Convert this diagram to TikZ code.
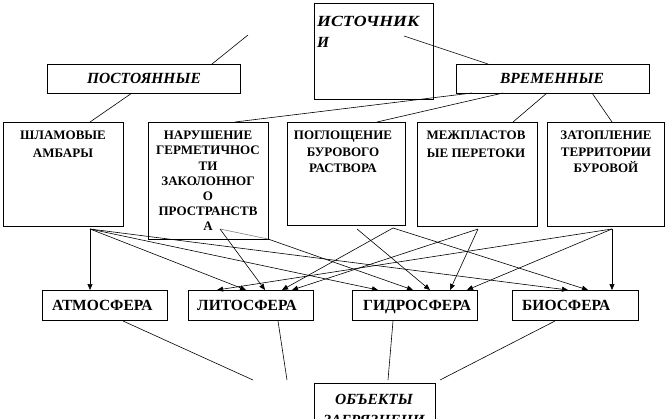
\documentclass[tikz,border=0pt]{standalone}
\usepackage{fontspec}
\setmainfont{Liberation Serif}
\usetikzlibrary{arrows.meta,calc}
\begin{document}
\begin{tikzpicture}[x=1pt,y=-1pt,
  box/.style={draw=black,line width=0.9pt,inner sep=0pt,anchor=north west},
  rowtxt/.style={align=center,inner sep=0pt,anchor=north},
  lowtxt/.style={font=\bfseries\fontsize{15.5}{17}\selectfont,inner sep=0pt,anchor=base west},
  hdrtxt/.style={font=\bfseries\itshape\fontsize{15.5}{21}\selectfont,inner sep=0pt},
  link/.style={line width=0.6pt},
  arr/.style={line width=0.6pt,-{Triangle[length=6pt,width=5pt]}}]
\clip (0,0) rectangle (669,418);
\fill[white] (0,0) rectangle (669,418);

% top level
\node[box,minimum width=119pt,minimum height=96pt] (src) at (314,3) {};
\node[hdrtxt,anchor=north west,align=left] (srct) at (317,16) {\scalebox{1.15}[1]{ИСТОЧНИК}\\И};
\node[box,minimum width=193pt,minimum height=29pt] (post) at (47,64) {};
\node[hdrtxt,anchor=base] (postt) at (144,83) {ПОСТОЯННЫЕ};
\node[box,minimum width=193pt,minimum height=29pt] (temp) at (456,64) {};
\node[hdrtxt,anchor=base] (tempt) at (552,83) {ВРЕМЕННЫЕ};

% second row
\node[box,minimum width=120pt,minimum height=104pt] (b1) at (3,122) {};
\node[rowtxt,font=\bfseries\fontsize{13}{18}\selectfont] (b1t) at (63,131) {ШЛАМОВЫЕ\\АМБАРЫ};
\node[box,minimum width=120pt,minimum height=117pt] (b2) at (148,122) {};
\node[rowtxt,font=\bfseries\fontsize{13}{15.2}\selectfont] (b2t) at (208,131) {НАРУШЕНИЕ\\ГЕРМЕТИЧНОС\\ТИ\\ЗАКОЛОННОГ\\О\\ПРОСТРАНСТВ\\А};
\node[box,minimum width=118pt,minimum height=103pt] (b3) at (287,122) {};
\node[rowtxt,font=\bfseries\fontsize{13}{16.5}\selectfont] (b3t) at (343,131) {ПОГЛОЩЕНИЕ\\БУРОВОГО\\РАСТВОРА};
\node[box,minimum width=120pt,minimum height=104pt] (b4) at (417,122) {};
\node[rowtxt,font=\bfseries\fontsize{13}{18}\selectfont] (b4t) at (476,131) {МЕЖПЛАСТОВ\\ЫЕ ПЕРЕТОКИ};
\node[box,minimum width=117pt,minimum height=104pt] (b5) at (547,122) {};
\node[rowtxt,font=\bfseries\fontsize{13}{16.5}\selectfont] (b5t) at (606,131) {ЗАТОПЛЕНИЕ\\ТЕРРИТОРИИ\\БУРОВОЙ};

% bottom row
\node[box,minimum width=125pt,minimum height=30pt] (atm) at (42,290) {};
\node[lowtxt] (atmt) at (52,310) {АТМОСФЕРА};
\node[box,minimum width=125pt,minimum height=30pt] (lito) at (188,290) {};
\node[lowtxt] (litot) at (197,310) {ЛИТОСФЕРА};
\node[box,minimum width=125pt,minimum height=30pt] (gidro) at (352,290) {};
\node[lowtxt] (gidrot) at (363,310) {ГИДРОСФЕРА};
\node[box,minimum width=126pt,minimum height=30pt] (bio) at (512,290) {};
\node[lowtxt] (biot) at (522,310) {БИОСФЕРА};

% objects box (cut by the picture edge)
\node[box,minimum width=121pt,minimum height=60pt] (obj) at (314,383) {};
\node[hdrtxt,anchor=north,align=center] (objt) at (374,394) {ОБЪЕКТЫ\\ЗАГРЯЗНЕНИ\\Я};

% free ends and hubs
\coordinate (c1) at (248,35);
\coordinate (c2) at (212,64);
\coordinate (c3) at (404,36);
\coordinate (c4) at (488,64);
\coordinate (p1) at (132,93);
\coordinate (p2) at (90,122);
\coordinate (t1) at (472,93);
\coordinate (t2) at (235,122);
\coordinate (t3) at (503,93);
\coordinate (t4) at (377,122);
\coordinate (t5) at (547,93);
\coordinate (t6) at (513,122);
\coordinate (t7) at (592,93);
\coordinate (t8) at (612,122);

\draw[link] (c1) -- (c2);
\draw[link] (c3) -- (c4);
\draw[link] (p1) -- (p2);
\draw[link] (t1) -- (t2);
\draw[link] (t3) -- (t4);
\draw[link] (t5) -- (t6);
\draw[link] (t7) -- (t8);

\coordinate (hS) at (90,229);
\coordinate (hN) at (220,229);
\coordinate (hNc) at (268,239);
\coordinate (hPa) at (357,229);
\coordinate (hPb) at (393,228);
\coordinate (hM) at (478,229);
\coordinate (hZ) at (612,229);

\coordinate (aA) at (90,290);
\coordinate (aL1) at (217,290);
\coordinate (aL2) at (246,290);
\coordinate (aL3) at (265,290);
\coordinate (aL4) at (282,290);
\coordinate (aL5) at (292,290);
\coordinate (aG1) at (378,290);
\coordinate (aG2) at (413,290);
\coordinate (aG3) at (430,290);
\coordinate (aG4) at (450,290);
\coordinate (aG5) at (467,290);
\coordinate (aB1) at (568,290);
\coordinate (aB2) at (588,290);
\coordinate (aB3) at (612,290);

\draw[link,gray] (hN) -- (hNc);
\draw[arr] (hS) -- (aA);
\draw[arr] (hS) -- (aL2);
\draw[arr] (hS) -- (aG1);
\draw[arr] (hS) -- (aB1);
\draw[arr] (hN) -- (aL3);
\draw[arr] (hNc) -- (aG2);
\draw[arr] (hPa) -- (aG3);
\draw[arr] (hPb) -- (aL4);
\draw[arr] (hPb) -- (aB2);
\draw[arr] (hM) -- (aL5);
\draw[arr] (hM) -- (aG4);
\draw[arr] (hZ) -- (aL1);
\draw[arr] (hZ) -- (aG5);
\draw[arr] (hZ) -- (aB3);

% lines toward the objects box
\coordinate (o1) at (123,321);
\coordinate (o2) at (253,380);
\coordinate (o3) at (278,321);
\coordinate (o4) at (287,380);
\coordinate (o5) at (393,321);
\coordinate (o6) at (388,380);
\coordinate (o7) at (555,321);
\coordinate (o8) at (440,380);
\draw[link] (o1) -- (o2);
\draw[link] (o3) -- (o4);
\draw[link] (o5) -- (o6);
\draw[link] (o7) -- (o8);
\end{tikzpicture}
\end{document}
